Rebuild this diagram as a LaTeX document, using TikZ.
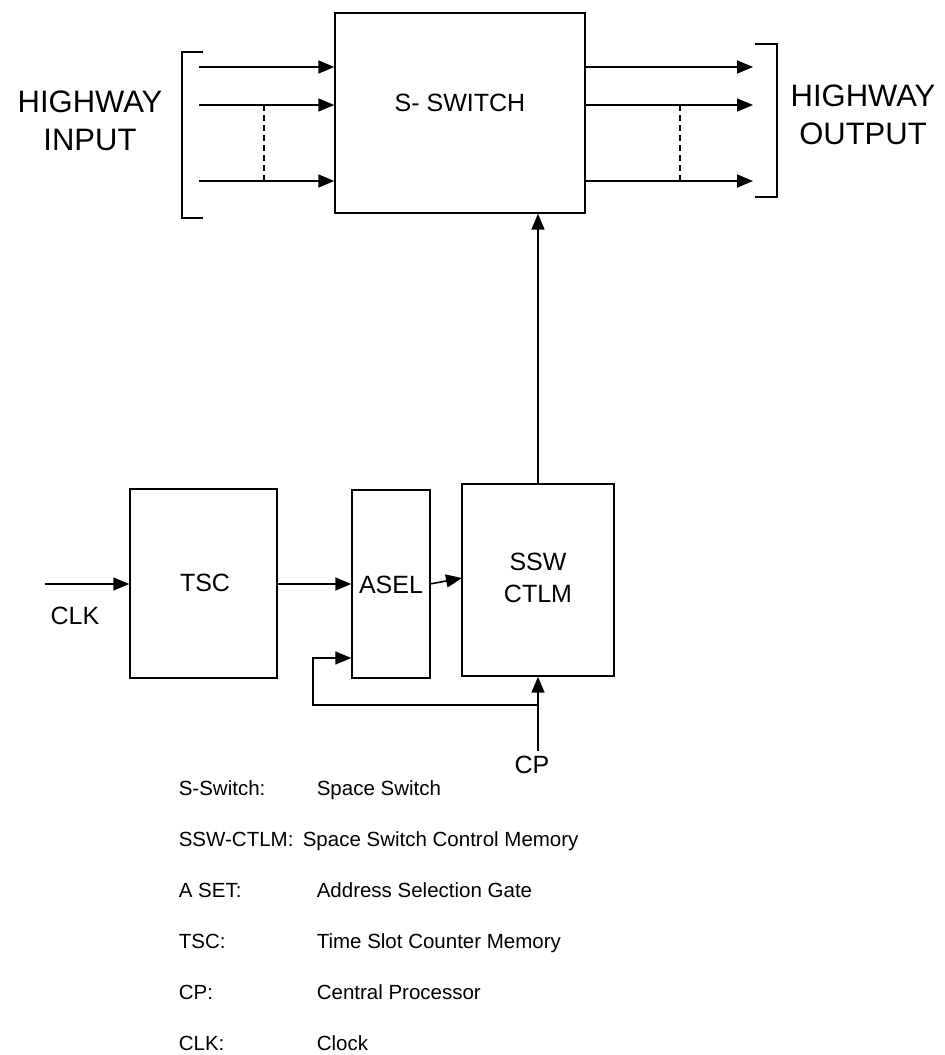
\documentclass[tikz,border=0pt]{standalone}
\usepackage{fontspec}
\setmainfont{Liberation Sans}
\usetikzlibrary{arrows.meta}
\begin{document}
\begin{tikzpicture}[x=1pt,y=-1pt,
  line width=1.6pt,
  arr/.style={-{Triangle[length=16pt,width=13pt]}},
  blk/.style={draw,inner sep=0pt,line width=1.4pt},
  big/.style={font=\fontsize{31}{38}\selectfont,align=center,inner sep=0pt},
  lbl/.style={font=\fontsize{25}{32}\selectfont,align=center,inner sep=0pt},
  leg/.style={font=\fontsize{20.5}{24}\selectfont,inner sep=0pt,anchor=base west}]
\useasboundingbox (0,0) rectangle (945,1055);

% S-switch
\node[blk,minimum width=250pt,minimum height=200pt] (sw) at (460,113) {};
\node[lbl] (swt) at (460,103) {S- SWITCH};

% input side
\node[big] (hin) at (90,121) {HIGHWAY\\INPUT};
\draw (203,52) -- (182,52) -- (182,218) -- (203,218);
\coordinate (i1) at (199,67);
\coordinate (i2) at (199,105);
\coordinate (i3) at (199,181);
\draw[arr] (i1) -- (i1 -| sw.west);
\draw[arr] (i2) -- (i2 -| sw.west);
\draw[arr] (i3) -- (i3 -| sw.west);
\coordinate (d1) at (264,105);
\coordinate (d2) at (264,181);
\draw[line width=1.2pt,dash pattern=on 6pt off 4pt] (d1) -- (d2);

% output side
\node[big] (hout) at (863,115) {HIGHWAY\\OUTPUT};
\draw (755,44) -- (777,44) -- (777,197) -- (755,197);
\coordinate (o1) at (753,67);
\coordinate (o2) at (753,105);
\coordinate (o3) at (753,181);
\draw[arr] (o1 -| sw.east) -- (o1);
\draw[arr] (o2 -| sw.east) -- (o2);
\draw[arr] (o3 -| sw.east) -- (o3);
\coordinate (e1) at (680,105);
\coordinate (e2) at (680,181);
\draw[line width=1.2pt,dash pattern=on 6pt off 4pt] (e1) -- (e2);

% lower blocks
\node[blk,minimum width=147pt,minimum height=189pt] (tsc) at (203.5,583.5) {};
\node[lbl] (tsct) at (205,583) {TSC};
\node[blk,minimum width=78pt,minimum height=188pt] (asel) at (391,584) {};
\node[lbl] (aselt) at (391,585) {ASEL};
\node[blk,minimum width=152pt,minimum height=192pt] (ssw) at (538,580) {};
\node[lbl] (sswt) at (538,578) {SSW\\CTLM};

% connectors
\coordinate (clk) at (45,584);
\draw[arr] (clk) -- (clk -| tsc.west);
\node[lbl] (clkt) at (75,616) {CLK};
\draw[arr] (tsc.east |- clk) -- (asel.west |- clk);
\coordinate (a1) at (430,584);
\coordinate (a2) at (462,578);
\draw[arr] (a1) -- (a2);
\draw[arr] (ssw.north) -- (ssw.north |- sw.south);

\coordinate (cpin) at (538,751);
\draw[arr] (cpin) -- (ssw.south);
\node[lbl] (cpt) at (532,765) {CP};
\coordinate (fbj) at (538,705);
\coordinate (fbc) at (313,705);
\coordinate (fbt) at (313,658);
\draw[arr,line width=1.2pt] (fbj) -- (fbc) -- (fbt) -- (fbt -| asel.west);

% legend
\node[leg] (l1a) at (178,795) {S-Switch:};
\node[leg] (l1b) at (316,795) {Space Switch};
\node[leg] (l2a) at (178,846) {SSW-CTLM:};
\node[leg] (l2b) at (302,846) {Space Switch Control Memory};
\node[leg] (l3a) at (178,897) {A SET:};
\node[leg] (l3b) at (316,897) {Address Selection Gate};
\node[leg] (l4a) at (178,948) {TSC:};
\node[leg] (l4b) at (316,948) {Time Slot Counter Memory};
\node[leg] (l5a) at (178,999) {CP:};
\node[leg] (l5b) at (316,999) {Central Processor};
\node[leg] (l6a) at (178,1050) {CLK:};
\node[leg] (l6b) at (316,1050) {Clock};
\end{tikzpicture}
\end{document}
